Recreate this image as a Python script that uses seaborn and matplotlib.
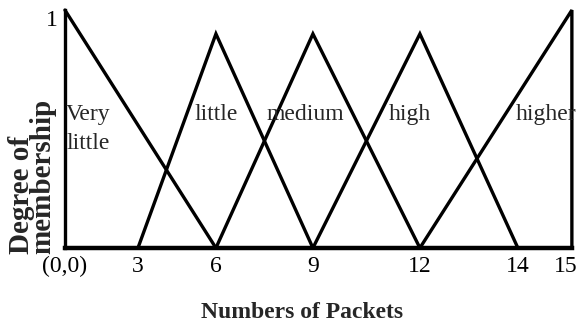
import numpy as np
import pandas as pd
import matplotlib
matplotlib.use("Agg")
import matplotlib.pyplot as plt
import matplotlib.transforms as mtransforms
import seaborn as sns

# membership functions (x = number of packets, y = degree of membership)
set_names = ["Very\nlittle", "little", "medium", "high", "higher"]
very_little_x = [0, 6]
very_little_y = [1, 0]
little_x = [3, 6, 9]
little_y = [0, 0.9, 0]
medium_x = [6, 9, 12]
medium_y = [0, 0.9, 0]
high_x = [9, 12, 14]
high_y = [0, 0.9, 0]
higher_x = [12, 15, 15]
higher_y = [0, 1, 0]

x_ticks = [0, 3, 6, 9, 12, 14, 15]
x_tick_labels = ["(0,0)", "3", "6", "9", "12", "14", "15"]

sns.set_theme(style="white")
plt.rcParams["font.family"] = ["Liberation Serif", "DejaVu Serif"]

frames = []
for name, xs, ys in zip(set_names,
                        [very_little_x, little_x, medium_x, high_x, higher_x],
                        [very_little_y, little_y, medium_y, high_y, higher_y]):
    frames.append(pd.DataFrame({"packets": xs, "membership": ys, "set": name}))
df = pd.concat(frames, ignore_index=True)

fig = plt.figure(figsize=(5.8, 3.36), dpi=100)
ax = fig.add_axes([0.112, 0.262, 0.874, 0.708])

# the hand-drawn axis is not evenly spaced, so use a piecewise scale
knots_val = [0, 3, 6, 9, 12, 14, 15]
knots_pos = [65, 138, 216, 313, 420, 518, 572]
fwd = lambda v: np.interp(v, knots_val, knots_pos)
inv = lambda p: np.interp(p, knots_pos, knots_val)
ax.set_xscale("function", functions=(fwd, inv))

sns.lineplot(data=df, x="packets", y="membership", hue="set",
             palette={n: "black" for n in set_names}, sort=False,
             estimator=None, legend=False, linewidth=2.4, ax=ax)
for line in ax.lines:
    line.set_clip_on(False)
    line.set_solid_joinstyle("miter")

ax.set_xlim(0, 15)
ax.set_ylim(0, 1)
sns.despine(ax=ax)
ax.spines["left"].set_linewidth(2.4)
ax.spines["bottom"].set_linewidth(3.2)
ax.spines["left"].set_color("black")
ax.spines["bottom"].set_color("black")

ax.set_xticks(x_ticks, x_tick_labels)
ax.set_yticks([1], ["1"])
ax.tick_params(axis="both", length=0, labelsize=17, colors="black")
ax.tick_params(axis="x", pad=6)
ax.tick_params(axis="y", pad=5)
for lbl in ax.get_yticklabels():
    lbl.set_va("top")
# keep the last label inside the figure
last = ax.get_xticklabels()[-1]
last.set_transform(last.get_transform() +
                   mtransforms.ScaledTranslation(-6 / 100, 0, fig.dpi_scale_trans))
ax.set_xlabel("")
ax.set_ylabel("")

# set names inside the plot
ax.text(0.05, 0.50, set_names[0], ha="left", va="center", fontsize=17,
        linespacing=1.5)
label_x = [6, 8.78, 11.72, 14.52]
for name, lx in zip(set_names[1:], label_x):
    ax.text(lx, 0.56, name, ha="center", va="center", fontsize=17)

fig.text(0.52, 0.07, "Numbers of Packets", ha="center", va="center",
         fontsize=17, fontweight="bold")
fig.text(0.055, 0.245, "Degree of\nmembership", rotation=90, ha="center",
         va="bottom", multialignment="left", fontsize=21, fontweight="bold",
         linespacing=0.72)

fig.savefig("out.png", dpi=100)
